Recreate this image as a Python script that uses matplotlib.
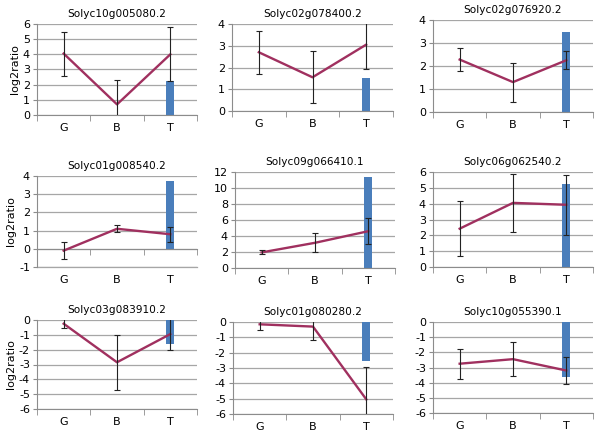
import numpy as np
import matplotlib.pyplot as plt

plt.rcParams["axes.unicode_minus"] = False

cats = ["G", "B", "T"]
titles = ["Solyc10g005080.2", "Solyc02g078400.2", "Solyc02g076920.2",
          "Solyc01g008540.2", "Solyc09g066410.1", "Solyc06g062540.2",
          "Solyc03g083910.2", "Solyc01g080280.2", "Solyc10g055390.1"]
# line values (G, B, T) and their error
line_vals = [[4.05, 0.7, 4.0], [2.7, 1.55, 3.05], [2.28, 1.3, 2.25],
             [-0.1, 1.1, 0.8], [1.95, 3.15, 4.6], [2.42, 4.05, 3.93],
             [-0.25, -2.85, -0.95], [-0.15, -0.3, -5.05], [-2.75, -2.45, -3.2]]
line_err = [[1.45, 1.63, 1.78], [1.0, 1.2, 1.1], [0.5, 0.85, 0.4],
            [0.45, 0.2, 0.42], [0.25, 1.2, 1.6], [1.75, 1.82, 1.88],
            [0.3, 1.85, 1.05], [0.35, 0.9, 2.1], [1.0, 1.12, 0.92]]
# bar value at T
bar_vals = [2.25, 1.5, 3.5, 3.7, 11.4, 5.25, -1.6, -2.55, -3.6]
ylims = [(0, 6), (0, 4), (0, 4), (-1, 4), (0, 12), (0, 6), (-6, 0), (-6, 0), (-6, 0)]
ysteps = [1, 1, 1, 1, 2, 1, 1, 1, 1]

# axes rectangles in pixels: left, right, top, bottom
rects = [(37, 197, 24, 115), (232, 393, 24, 111), (433, 593, 20, 112),
         (37, 197, 176, 267), (235, 395, 172, 268), (433, 593, 172, 267),
         (37, 197, 320, 409), (233, 393, 322, 414), (433, 593, 322, 413)]

W, H = 600, 433
fig = plt.figure(figsize=(6, 4.33), dpi=100)
fig.patch.set_facecolor("white")

line_c = "#a0305f"
bar_c = "#4a7ebb"
grid_c = "#a6a6a6"
axis_c = "#8c8c8c"

for i in range(9):
    l, r, t, b = rects[i]
    ax = fig.add_axes([l / W, 1 - b / H, (r - l) / W, (b - t) / H])
    x = np.arange(3)
    ax.bar(2, bar_vals[i], width=0.15, color=bar_c, zorder=2)
    ax.plot(x, line_vals[i], color=line_c, lw=1.7, zorder=3)
    ax.errorbar(x, line_vals[i], yerr=line_err[i], fmt="none", ecolor="#222222",
                elinewidth=0.8, capsize=2.5, capthick=0.8, zorder=4)
    y0, y1 = ylims[i]
    ax.set_ylim(y0, y1)
    ax.set_xlim(-0.5, 2.5)
    ax.set_yticks(np.arange(y0, y1 + 0.01, ysteps[i]))
    ax.yaxis.grid(True, color=grid_c, lw=0.9)
    ax.set_axisbelow(True)
    for s in ["top", "right"]:
        ax.spines[s].set_visible(False)
    ax.spines["left"].set_color(axis_c)
    ax.spines["bottom"].set_color(axis_c)
    ax.set_xticks(x)
    ax.set_xticklabels(cats)
    ax.set_xticks([-0.5, 0.5, 1.5, 2.5], minor=True)
    ax.tick_params(axis="x", which="major", length=0, labelsize=8, pad=6)
    ax.tick_params(axis="x", which="minor", length=4, color=axis_c, direction="out")
    ax.tick_params(axis="y", length=3, color=axis_c, labelsize=8, pad=2)
    if y0 < 0 < y1:
        ax.spines["bottom"].set_position(("data", 0))
        ax.axhline(y0, color=grid_c, lw=0.9, clip_on=False, zorder=1)
        ax.tick_params(axis="x", which="major", pad=6 + (b - t) * (0 - y0) / (y1 - y0) * 0.72)
    ax.set_title(titles[i], fontsize=7.6, pad=5)
    if i % 3 == 0:
        ax.set_ylabel("log2ratio", fontsize=8, labelpad=2)

fig.savefig("out.png", dpi=100, facecolor="white")
